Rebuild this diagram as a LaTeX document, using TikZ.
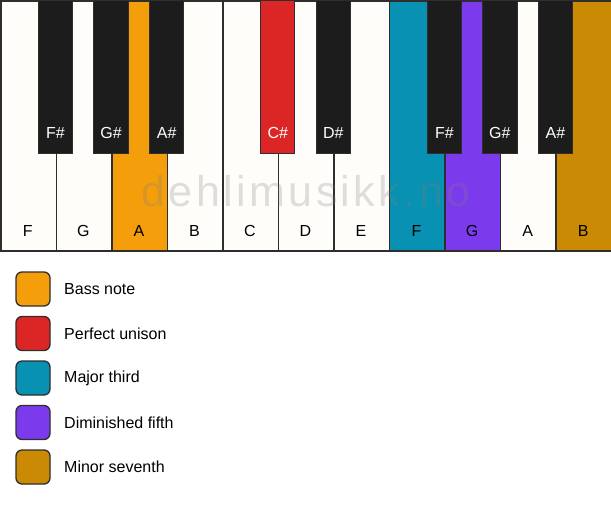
\documentclass[tikz,border=0pt]{standalone}
\usepackage{fontspec}
\setmainfont{Liberation Sans}
\newfontfamily\wmfont[LetterSpace=8]{Liberation Sans}
\definecolor{keywhite}{HTML}{FFFDF9}
\definecolor{keyblack}{HTML}{1C1C1C}
\definecolor{keyedge}{HTML}{2E2E2E}
\definecolor{cbass}{HTML}{F59E0B}
\definecolor{cunison}{HTML}{DC2626}
\definecolor{cthird}{HTML}{0891B2}
\definecolor{cfifth}{HTML}{7C3AED}
\definecolor{cseventh}{HTML}{CA8A04}
\tikzset{
  whitekey/.style={draw=keyedge, line width=1.5pt, fill=#1, anchor=north west, inner sep=0pt,
    minimum width=55.545pt, minimum height=250pt, rectangle},
  blackkey/.style={draw=keyedge, line width=1pt, fill=#1, anchor=north, inner sep=0pt,
    minimum width=34.5pt, minimum height=153pt, rectangle},
  wlabel/.style={font=\fontsize{16}{16}\selectfont, text=black, inner sep=0pt},
  blabel/.style={font=\fontsize{16}{16}\selectfont, text=white, inner sep=0pt},
  legendbox/.style={draw=keyedge, line width=1.3pt, fill=#1, rounded corners=6pt,
    minimum width=34pt, minimum height=34pt, inner sep=0pt},
  legendtext/.style={font=\fontsize{16}{16}\selectfont, anchor=west, inner sep=0pt}
}
\begin{document}
\begin{tikzpicture}[x=1pt,y=-1pt]
\useasboundingbox (0,0) rectangle (611,506);
\fill[white] (0,0) rectangle (611,506);
% white keys
\foreach \i/\n/\c in {0/F/keywhite,1/G/keywhite,2/A/cbass,3/B/keywhite,4/C/keywhite,5/D/keywhite,6/E/keywhite,7/F/cthird,8/G/cfifth,9/A/keywhite,10/B/cseventh}{
  \node[whitekey=\c] (w\i) at ({55.545*\i},0) {};
  \node[wlabel] (wl\i) at ({55.545*\i+27.77},231) {\n};
}
% watermark
\node[font=\wmfont\fontsize{43}{43}\selectfont, text=gray, opacity=0.25, inner sep=0pt] (wm) at (306,191) {dehlimusikk.no};
% black keys
\foreach \i/\n/\c in {1/F\#/keyblack,2/G\#/keyblack,3/A\#/keyblack,5/C\#/cunison,6/D\#/keyblack,8/F\#/keyblack,9/G\#/keyblack,10/A\#/keyblack}{
  \node[blackkey=\c] (b\i) at ({55.545*\i},0) {};
  \node[blabel] (bl\i) at ({55.545*\i},133) {\n};
}
% legend
\foreach \k/\c/\t in {0/cbass/Bass note,1/cunison/Perfect unison,2/cthird/Major third,3/cfifth/Diminished fifth,4/cseventh/Minor seventh}{
  \node[legendbox=\c] (lb\k) at (33,{289+44.5*\k}) {};
  \node[legendtext] (lt\k) at (64,{289+44.5*\k}) {\t};
}
\end{tikzpicture}
\end{document}
